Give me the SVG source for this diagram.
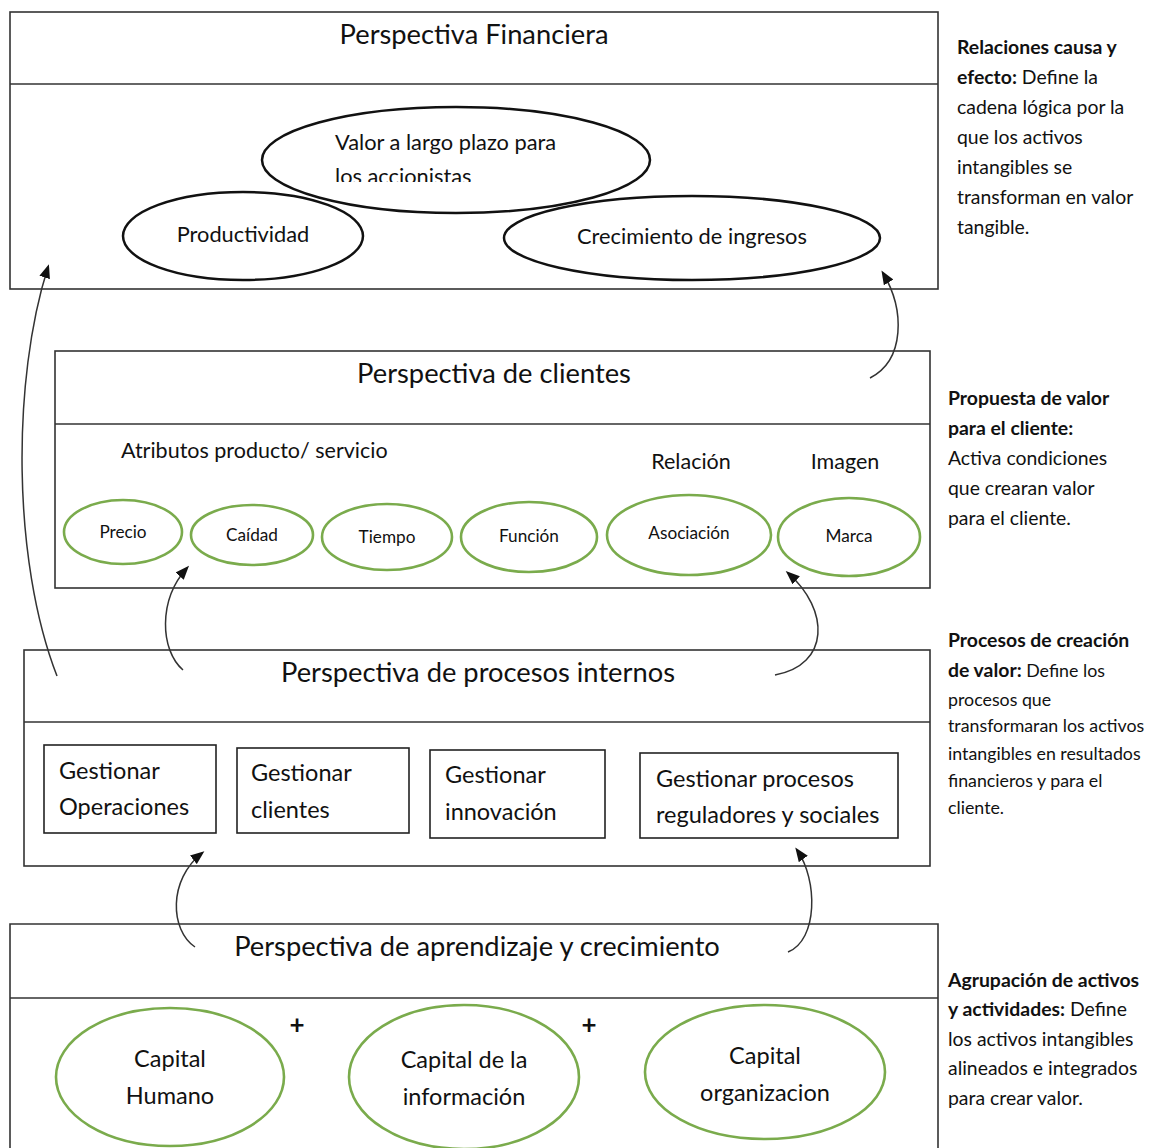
<svg xmlns="http://www.w3.org/2000/svg" width="1160" height="1148" viewBox="0 0 1160 1148">
  <style>
    text { font-family: Lato, "Open Sans", "Liberation Sans", sans-serif; fill: #111; }
    .panel { fill: none; stroke: #333; stroke-width: 1.6; }
    .title { font-size: 27.3px; text-anchor: middle; }
    .oval { fill: none; stroke: #111; stroke-width: 2.5; }
    .goval { fill: none; stroke: #7aab4c; stroke-width: 2.6; }
    .otext { font-size: 21.8px; }
    .gtext { font-size: 17.2px; text-anchor: middle; }
    .sub { font-size: 21.5px; }
    .proc { fill: none; stroke: #222; stroke-width: 1.6; }
    .ptext { font-size: 23.5px; }
    .cap { font-size: 23.5px; text-anchor: middle; }
    .plus { font-size: 26px; text-anchor: middle; font-weight: bold; }
    .note { font-size: 19.4px; }
    .note2 { font-size: 17.8px; }
    .b { font-weight: bold; }
    .conn { fill: none; stroke: #333; stroke-width: 1.5; marker-end: url(#head); }
  </style>
  <defs>
    <marker id="head" markerUnits="userSpaceOnUse" markerWidth="14" markerHeight="11" viewBox="0 0 14 11" refX="11" refY="5.5" orient="auto">
      <path d="M0,0 L14,5.5 L0,11 z" fill="#111"/>
    </marker>
    <clipPath id="cut">
      <rect x="300" y="100" width="300" height="82"/>
    </clipPath>
  </defs>
  <rect width="1160" height="1148" fill="#fff"/>

  <!-- Financial perspective -->
  <g id="financiera">
    <rect class="panel" x="10" y="12" width="928" height="277"/>
    <line class="panel" x1="10" y1="84" x2="938" y2="84"/>
    <text class="title" x="474" y="44">Perspectiva Financiera</text>
  </g>
  <g id="valor-largo-plazo">
    <ellipse class="oval" cx="456" cy="160" rx="194" ry="53"/>
    <g clip-path="url(#cut)">
      <text class="otext" x="335" y="150">Valor a largo plazo para</text>
      <text class="otext" x="335" y="184">los accionistas</text>
    </g>
  </g>
  <g id="productividad">
    <ellipse class="oval" cx="243" cy="236" rx="120" ry="44"/>
    <text class="otext" x="243" y="242" text-anchor="middle">Productividad</text>
  </g>
  <g id="crecimiento">
    <ellipse class="oval" cx="692" cy="238" rx="188" ry="42"/>
    <text class="otext" x="692" y="244" text-anchor="middle">Crecimiento de ingresos</text>
  </g>

  <!-- Customer perspective -->
  <g id="clientes">
    <rect class="panel" x="55" y="351" width="875" height="237"/>
    <line class="panel" x1="55" y1="424" x2="930" y2="424"/>
    <text class="title" x="494" y="383">Perspectiva de clientes</text>
    <text class="sub" x="121" y="458">Atributos producto/ servicio</text>
    <text class="sub" x="691" y="469" text-anchor="middle">Relación</text>
    <text class="sub" x="845" y="469" text-anchor="middle">Imagen</text>
  </g>
  <g id="precio">
    <ellipse class="goval" cx="123" cy="532" rx="59" ry="32"/>
    <text class="gtext" x="123" y="538">Precio</text>
  </g>
  <g id="calidad">
    <ellipse class="goval" cx="252" cy="535" rx="61" ry="30"/>
    <text class="gtext" x="252" y="541">Caídad</text>
  </g>
  <g id="tiempo">
    <ellipse class="goval" cx="387" cy="537" rx="65" ry="33"/>
    <text class="gtext" x="387" y="543">Tiempo</text>
  </g>
  <g id="funcion">
    <ellipse class="goval" cx="529" cy="537" rx="68" ry="35"/>
    <text class="gtext" x="529" y="542">Función</text>
  </g>
  <g id="asociacion">
    <ellipse class="goval" cx="689" cy="535" rx="82" ry="40"/>
    <text class="gtext" x="689" y="539">Asociación</text>
  </g>
  <g id="marca">
    <ellipse class="goval" cx="849" cy="537" rx="71" ry="39"/>
    <text class="gtext" x="849" y="542">Marca</text>
  </g>

  <!-- Internal process perspective -->
  <g id="procesos">
    <rect class="panel" x="24" y="650" width="906" height="216"/>
    <line class="panel" x1="24" y1="722" x2="930" y2="722"/>
    <text class="title" x="478" y="682">Perspectiva de procesos internos</text>
  </g>
  <g id="operaciones">
    <rect class="proc" x="44" y="745" width="172" height="88"/>
    <text class="ptext" x="59" y="779">Gestionar</text>
    <text class="ptext" x="59" y="815">Operaciones</text>
  </g>
  <g id="gestion-clientes">
    <rect class="proc" x="237" y="748" width="172" height="85"/>
    <text class="ptext" x="251" y="781">Gestionar</text>
    <text class="ptext" x="251" y="818">clientes</text>
  </g>
  <g id="innovacion">
    <rect class="proc" x="430" y="750" width="175" height="88"/>
    <text class="ptext" x="445" y="783">Gestionar</text>
    <text class="ptext" x="445" y="820">innovación</text>
  </g>
  <g id="reguladores">
    <rect class="proc" x="640" y="753" width="258" height="85"/>
    <text class="ptext" x="656" y="787">Gestionar procesos</text>
    <text class="ptext" x="656" y="823">reguladores y sociales</text>
  </g>

  <!-- Learning and growth perspective -->
  <g id="aprendizaje">
    <path class="panel" d="M10,1150 V924 H938 V1150"/>
    <line class="panel" x1="10" y1="998" x2="938" y2="998"/>
    <text class="title" x="477" y="956">Perspectiva de aprendizaje y crecimiento</text>
    <text class="plus" x="297" y="1034">+</text>
    <text class="plus" x="589" y="1034">+</text>
  </g>
  <g id="capital-humano">
    <ellipse class="goval" cx="170" cy="1077" rx="114" ry="69"/>
    <text class="cap" x="170" y="1067">Capital</text>
    <text class="cap" x="170" y="1104">Humano</text>
  </g>
  <g id="capital-informacion">
    <ellipse class="goval" cx="464" cy="1077" rx="115" ry="72"/>
    <text class="cap" x="464" y="1068">Capital de la</text>
    <text class="cap" x="464" y="1105">información</text>
  </g>
  <g id="capital-organizacion">
    <ellipse class="goval" cx="765" cy="1072" rx="120" ry="67"/>
    <text class="cap" x="765" y="1064">Capital</text>
    <text class="cap" x="765" y="1101">organizacion</text>
  </g>

  <!-- Side notes -->
  <g id="nota-causa-efecto">
    <text class="note b" x="957" y="54">Relaciones causa y</text>
    <text class="note" x="957" y="84"><tspan class="b">efecto:</tspan> Define la</text>
    <text class="note" x="957" y="114">cadena lógica por la</text>
    <text class="note" x="957" y="144">que los activos</text>
    <text class="note" x="957" y="174">intangibles se</text>
    <text class="note" x="957" y="204">transforman en valor</text>
    <text class="note" x="957" y="234">tangible.</text>
  </g>
  <g id="nota-propuesta">
    <text class="note b" x="948" y="405">Propuesta de valor</text>
    <text class="note b" x="948" y="435">para el cliente:</text>
    <text class="note" x="948" y="465">Activa condiciones</text>
    <text class="note" x="948" y="495">que crearan valor</text>
    <text class="note" x="948" y="525">para el cliente.</text>
  </g>
  <g id="nota-procesos">
    <text class="note b" x="948" y="647">Procesos de creación</text>
    <text class="note" x="948" y="677"><tspan class="b">de valor:</tspan><tspan class="note2"> Define los</tspan></text>
    <text class="note2" x="948" y="706">procesos que</text>
    <text class="note2" x="948" y="732">transformaran los activos</text>
    <text class="note2" x="948" y="760">intangibles en resultados</text>
    <text class="note2" x="948" y="787">financieros y para el</text>
    <text class="note2" x="948" y="814">cliente.</text>
  </g>
  <g id="nota-agrupacion">
    <text class="note b" x="948" y="987">Agrupación de activos</text>
    <text class="note" x="948" y="1016"><tspan class="b">y actividades:</tspan> Define</text>
    <text class="note" x="948" y="1046">los activos intangibles</text>
    <text class="note" x="948" y="1075">alineados e integrados</text>
    <text class="note" x="948" y="1105">para crear valor.</text>
  </g>

  <!-- Cause-and-effect connectors -->
  <g id="connectors">
    <path class="conn" d="M57,676 C12,560 12,380 48,267"/>
    <path class="conn" d="M870,378 C905,360 905,310 883,273"/>
    <path class="conn" d="M183,670 C160,650 158,600 187,568"/>
    <path class="conn" d="M775,675 C830,665 830,610 788,573"/>
    <path class="conn" d="M195,947 C170,930 168,880 202,853"/>
    <path class="conn" d="M788,952 C818,940 818,880 797,850"/>
  </g>
</svg>
